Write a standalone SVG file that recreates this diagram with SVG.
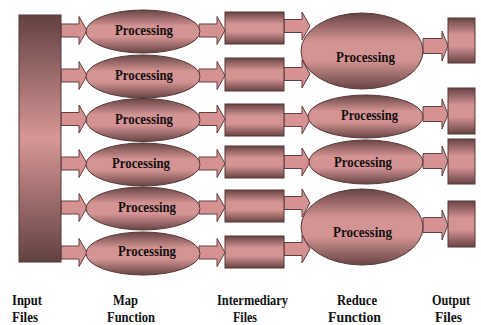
<svg xmlns="http://www.w3.org/2000/svg" width="481" height="325" viewBox="0 0 481 325">
  <defs>
    <!-- cylinder-like shading: dark rims, light middle band -->
    <linearGradient id="shade" x1="0" y1="0" x2="0" y2="1">
      <stop offset="0" stop-color="#684444"/>
      <stop offset="0.38" stop-color="#d59494"/>
      <stop offset="0.62" stop-color="#d59494"/>
      <stop offset="1" stop-color="#684444"/>
    </linearGradient>
    <linearGradient id="barShade" x1="0" y1="0" x2="0" y2="1">
      <stop offset="0" stop-color="#634141"/>
      <stop offset="0.5" stop-color="#d69696"/>
      <stop offset="1" stop-color="#634141"/>
    </linearGradient>
    <!-- block arrows pointing right, origin at tail centre -->
    <path id="arrow" d="M0,-6.5 H18 V-14 L26,0 L18,14 V6.5 H0 Z"/>
    <path id="arrowOut" d="M0,-7.5 H19 V-15 L25,0 L19,15 V7.5 H0 Z"/>
  </defs>
  <style>
    .node { fill: url(#shade); stroke: #553636; stroke-width: 1; }
    .bar { fill: url(#barShade); stroke: #553636; stroke-width: 1; }
    .conn use { fill: #d69292; stroke: #5e4040; stroke-width: 1; }
    .proc { font-family: "Liberation Serif", "Times New Roman", serif; font-weight: bold; font-size: 15px; fill: #141010; }
    .lbl { font-family: "Liberation Serif", "Times New Roman", serif; font-weight: bold; font-size: 15px; fill: #111; }
  </style>
  <rect width="481" height="325" fill="#ffffff"/>

  <!-- connectors -->
  <g id="connectors" class="conn">
    <!-- input files to map -->
    <use href="#arrow" x="61" y="30.5"/>
    <use href="#arrow" x="61" y="75.5"/>
    <use href="#arrow" x="61" y="119"/>
    <use href="#arrow" x="61" y="163.5"/>
    <use href="#arrow" x="61" y="207.5"/>
    <use href="#arrow" x="61" y="252.5"/>
    <!-- map to intermediary files -->
    <use href="#arrow" x="199" y="30.5"/>
    <use href="#arrow" x="199" y="75.5"/>
    <use href="#arrow" x="199" y="119"/>
    <use href="#arrow" x="199" y="163.5"/>
    <use href="#arrow" x="199" y="207.5"/>
    <use href="#arrow" x="199" y="252.5"/>
    <!-- intermediary files to reduce -->
    <use href="#arrow" x="284" y="26"/>
    <use href="#arrow" x="284" y="74"/>
    <use href="#arrow" x="284" y="120"/>
    <use href="#arrow" x="284" y="162"/>
    <use href="#arrow" x="284" y="203"/>
    <use href="#arrow" x="284" y="249"/>
    <!-- reduce to output files -->
    <use href="#arrowOut" x="423" y="46"/>
    <use href="#arrowOut" x="423" y="114"/>
    <use href="#arrowOut" x="423" y="161"/>
    <use href="#arrowOut" x="423" y="225"/>
  </g>

  <!-- input files -->
  <g id="input-files">
    <rect class="bar" x="19" y="15" width="42" height="247"/>
  </g>

  <!-- map function -->
  <g id="map-1">
    <ellipse class="node" cx="143" cy="31.5" rx="57" ry="21.5"/>
    <text class="proc" x="144" y="35" text-anchor="middle" textLength="58" lengthAdjust="spacingAndGlyphs">Processing</text>
  </g>
  <g id="map-2">
    <ellipse class="node" cx="143" cy="76.5" rx="57" ry="21.5"/>
    <text class="proc" x="144" y="80" text-anchor="middle" textLength="58" lengthAdjust="spacingAndGlyphs">Processing</text>
  </g>
  <g id="map-3">
    <ellipse class="node" cx="143" cy="120" rx="57" ry="21.5"/>
    <text class="proc" x="144" y="124" text-anchor="middle" textLength="58" lengthAdjust="spacingAndGlyphs">Processing</text>
  </g>
  <g id="map-4">
    <ellipse class="node" cx="143" cy="164.5" rx="57" ry="21.5"/>
    <text class="proc" x="141" y="168" text-anchor="middle" textLength="58" lengthAdjust="spacingAndGlyphs">Processing</text>
  </g>
  <g id="map-5">
    <ellipse class="node" cx="143" cy="208.5" rx="57" ry="21.5"/>
    <text class="proc" x="147" y="212" text-anchor="middle" textLength="58" lengthAdjust="spacingAndGlyphs">Processing</text>
  </g>
  <g id="map-6">
    <ellipse class="node" cx="143" cy="253.5" rx="57" ry="21.5"/>
    <text class="proc" x="147" y="256" text-anchor="middle" textLength="58" lengthAdjust="spacingAndGlyphs">Processing</text>
  </g>

  <!-- intermediary files -->
  <g id="inter-1"><rect class="node" x="225" y="12" width="59" height="32"/></g>
  <g id="inter-2"><rect class="node" x="225" y="58" width="59" height="33"/></g>
  <g id="inter-3"><rect class="node" x="225" y="104" width="59" height="32"/></g>
  <g id="inter-4"><rect class="node" x="225" y="146" width="59" height="32"/></g>
  <g id="inter-5"><rect class="node" x="225" y="190" width="59" height="32"/></g>
  <g id="inter-6"><rect class="node" x="225" y="236" width="59" height="32"/></g>

  <!-- reduce function -->
  <g id="reduce-1">
    <ellipse class="node" cx="362" cy="51" rx="61" ry="38"/>
    <text class="proc" x="365.5" y="62" text-anchor="middle" textLength="59" lengthAdjust="spacingAndGlyphs">Processing</text>
  </g>
  <g id="reduce-2">
    <ellipse class="node" cx="365.5" cy="116.5" rx="57.5" ry="21.5"/>
    <text class="proc" x="369.5" y="120" text-anchor="middle" textLength="57" lengthAdjust="spacingAndGlyphs">Processing</text>
  </g>
  <g id="reduce-3">
    <ellipse class="node" cx="366" cy="162" rx="57" ry="22"/>
    <text class="proc" x="363" y="167" text-anchor="middle" textLength="58" lengthAdjust="spacingAndGlyphs">Processing</text>
  </g>
  <g id="reduce-4">
    <ellipse class="node" cx="362" cy="227" rx="61" ry="38"/>
    <text class="proc" x="362.5" y="237" text-anchor="middle" textLength="59" lengthAdjust="spacingAndGlyphs">Processing</text>
  </g>

  <!-- output files -->
  <g id="output-1"><rect class="node" x="448" y="18" width="27" height="45"/></g>
  <g id="output-2"><rect class="node" x="448" y="88" width="27" height="46"/></g>
  <g id="output-3"><rect class="node" x="448" y="139" width="27" height="45"/></g>
  <g id="output-4"><rect class="node" x="448" y="201" width="27" height="46"/></g>

  <!-- column captions -->
  <g id="captions" class="lbl">
    <text x="12" y="305" textLength="30" lengthAdjust="spacingAndGlyphs">Input</text>
    <text x="12" y="322" textLength="26" lengthAdjust="spacingAndGlyphs">Files</text>
    <text x="113" y="305" textLength="25" lengthAdjust="spacingAndGlyphs">Map</text>
    <text x="107" y="322" textLength="48" lengthAdjust="spacingAndGlyphs">Function</text>
    <text x="217" y="305" textLength="71" lengthAdjust="spacingAndGlyphs">Intermediary</text>
    <text x="233" y="322" textLength="24" lengthAdjust="spacingAndGlyphs">Files</text>
    <text x="337" y="305" textLength="40" lengthAdjust="spacingAndGlyphs">Reduce</text>
    <text x="328" y="322" textLength="53" lengthAdjust="spacingAndGlyphs">Function</text>
    <text x="432" y="305" textLength="38" lengthAdjust="spacingAndGlyphs">Output</text>
    <text x="435" y="322" textLength="27" lengthAdjust="spacingAndGlyphs">Files</text>
  </g>
</svg>
